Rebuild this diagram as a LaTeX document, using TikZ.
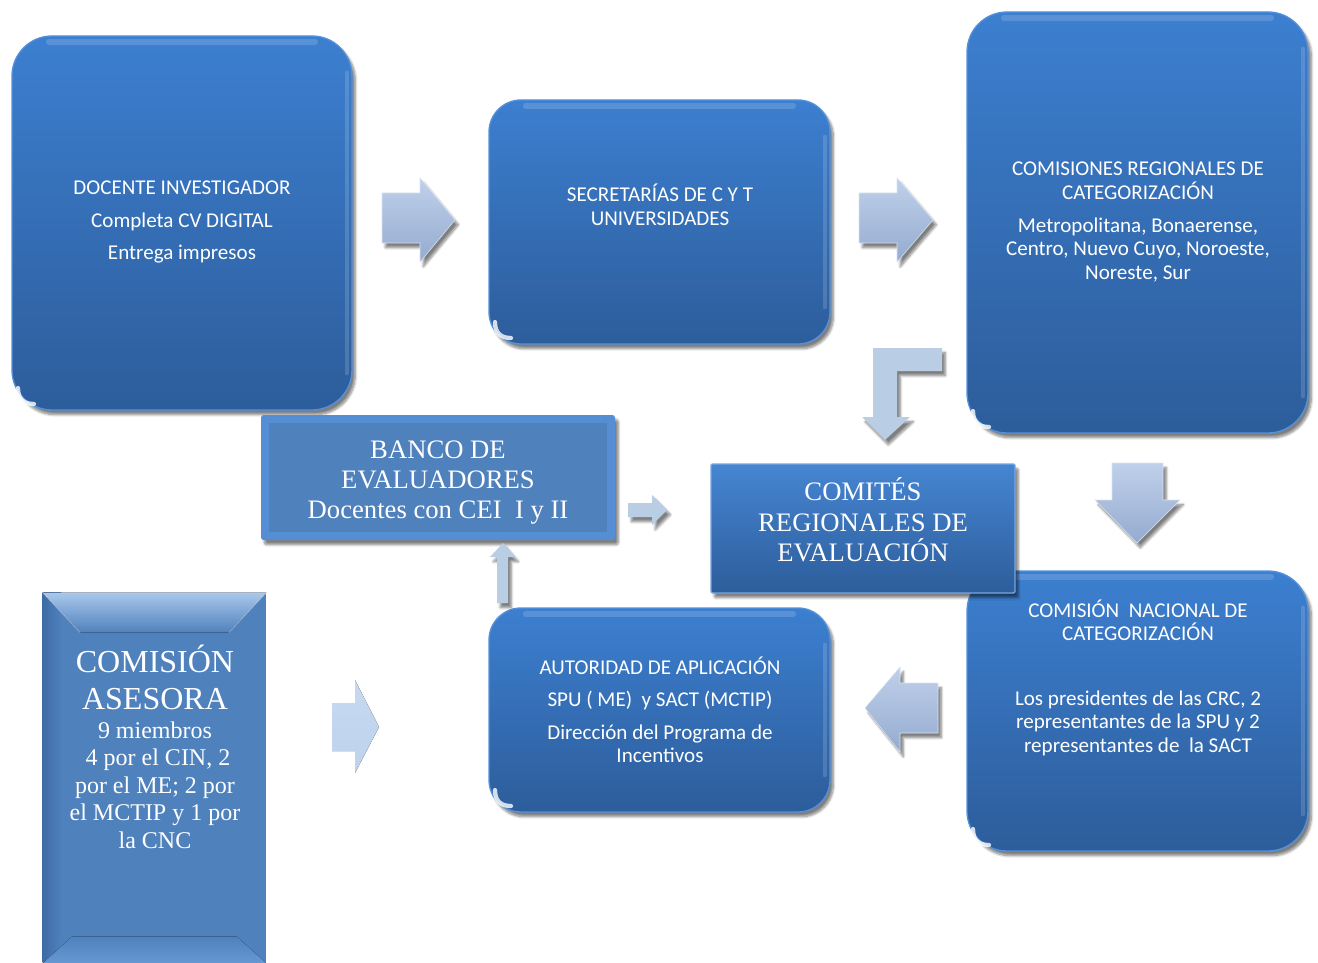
\documentclass[tikz,border=0pt]{standalone}
\usepackage{fontspec}
\setmainfont{Liberation Serif}
\newfontfamily\calfont{Carlito}
\usetikzlibrary{shadows.blur}
\definecolor{boxtop}{RGB}{60,127,208}
\definecolor{boxbot}{RGB}{45,93,155}
\definecolor{boxedge}{RGB}{84,145,218}
\definecolor{arrtop}{RGB}{192,208,234}
\definecolor{arrbot}{RGB}{148,171,208}
\definecolor{arrflat}{RGB}{185,205,229}
\definecolor{arrpale}{RGB}{198,217,241}
\definecolor{asefill}{RGB}{79,129,189}
\definecolor{asebevel}{RGB}{112,162,222}
\definecolor{asedark}{RGB}{62,108,165}
\definecolor{bancoedge}{RGB}{85,142,213}
\definecolor{bancoin}{RGB}{79,129,189}
\tikzset{
  shad/.style={blur shadow={shadow xshift=2.5pt,shadow yshift=-3.5pt,shadow blur steps=8,shadow opacity=50}},
  rbox/.style={shad,top color=boxtop,bottom color=boxbot,draw=boxedge,line width=1pt,inner sep=0pt},
  sqbox/.style={shad,top color=boxtop!95!white,bottom color=boxbot,draw=boxedge!80!white,line width=1pt,inner sep=0pt,rounded corners=1pt},
  sanstxt/.style={text=white,align=center,font=\calfont\fontsize{15.8}{17.6}\selectfont},
  seriftxt/.style={text=white,align=center,font=\fontsize{20}{22.5}\selectfont},
  blockarr/.style={shad,top color=arrtop,bottom color=arrbot,draw=arrtop!60!white,line width=0.4pt},
  flatarr/.style={shad,fill=arrflat,draw=none},
  glint/.style={draw=white,opacity=0.8,line width=3.2pt,line cap=round},
  topline/.style={draw=white,opacity=0.15,line width=4pt,line cap=round},
  sideline/.style={draw=white,opacity=0.15,line width=3pt,line cap=round}
}
\newcommand\boxdeco[1]{%
  \draw[glint] ([shift={(5pt,17pt)}]#1.south west) .. controls ([shift={(5pt,9pt)}]#1.south west) and ([shift={(9pt,5pt)}]#1.south west) .. ([shift={(17pt,5pt)}]#1.south west);
  \draw[topline] ([shift={(28pt,-5pt)}]#1.north west) -- ([shift={(-28pt,-5pt)}]#1.north east);
  \draw[sideline] ([shift={(-4.5pt,-28pt)}]#1.north east) -- ([shift={(-4.5pt,28pt)}]#1.south east);
}
\begin{document}
\begin{tikzpicture}[x=0.75pt,y=-0.75pt]
\useasboundingbox (0,0) rectangle (1318,963);

% rounded boxes
\node[rbox,rounded corners=30pt,minimum width=255pt,minimum height=280.5pt] (docente) at (182,223) {};
\node[rbox,rounded corners=24pt,minimum width=255.75pt,minimum height=183pt] (secret) at (659.5,222) {};
\node[rbox,rounded corners=30pt,minimum width=255.75pt,minimum height=315.75pt] (crc) at (1137.5,222.5) {};
\node[rbox,rounded corners=30pt,minimum width=255.75pt,minimum height=210pt] (cnc) at (1137.5,711) {};
\node[rbox,rounded corners=24pt,minimum width=255.75pt,minimum height=153pt] (autoridad) at (659.5,710) {};
\boxdeco{docente}
\boxdeco{secret}
\boxdeco{crc}
\boxdeco{cnc}
\boxdeco{autoridad}

% comites (square, over cnc)
\node[sqbox,minimum width=228pt,minimum height=96.75pt] (comites) at (863,528.5) {};

% banco
\node[shad,fill=bancoedge,rounded corners=2pt,inner sep=0pt,minimum width=265.5pt,minimum height=93.75pt] (banco) at (438,477.5) {};
\node[fill=bancoin,inner sep=0pt,minimum width=253.5pt,minimum height=81.75pt] (bancoin) at (banco.center) {};

% comision asesora (bevel)
\node[fill=asefill,inner sep=0pt,minimum width=167.25pt,minimum height=277.5pt] (asesora) at (154.5,778) {};
\fill[left color=asedark,right color=asefill] (asesora.north west) -- (asesora.south west) -- ([xshift=14pt]asesora.south west) -- ([xshift=14pt]asesora.north west) -- cycle;
\fill[top color=asebevel!60!white,bottom color=asefill] (asesora.north west) -- (asesora.north east) -- ([shift={(-28pt,-30pt)}]asesora.north east) -- ([shift={(28pt,-30pt)}]asesora.north west) -- cycle;
\fill[top color=asefill,bottom color=asebevel!70!asefill] (asesora.south west) -- (asesora.south east) -- ([shift={(-22pt,20pt)}]asesora.south east) -- ([shift={(22pt,20pt)}]asesora.south west) -- cycle;
\draw[white,opacity=0.35,line width=0.6pt] (asesora.north west) -- ([shift={(28pt,-30pt)}]asesora.north west) (asesora.north east) -- ([shift={(-28pt,-30pt)}]asesora.north east);

% block arrows
\draw[blockarr] (382,193) -- (420,193) -- (420,178) -- (455,220) -- (420,262) -- (420,243) -- (382,243) -- cycle;
\draw[blockarr] (859,193) -- (897,193) -- (897,178) -- (933,220) -- (897,262) -- (897,243) -- (859,243) -- cycle;
\draw[blockarr] (1112,463) -- (1163,463) -- (1163,500) -- (1180,500) -- (1137,543) -- (1095,500) -- (1112,500) -- cycle;
\draw[blockarr] (938,683) -- (938,733) -- (900,733) -- (900,752) -- (865,708) -- (900,667) -- (900,683) -- cycle;
\fill[flatarr] (873,348) -- (942,348) -- (942,371) -- (897,371) -- (897,417) -- (910,417) -- (885,440) -- (862,417) -- (873,417) -- cycle;
\fill[flatarr] (628,503) -- (652,503) -- (652,495) -- (667,510) -- (652,525) -- (652,517) -- (628,517) -- cycle;
\fill[flatarr] (497,603) -- (497,557) -- (490,557) -- (503,543) -- (515,557) -- (508,557) -- (508,603) -- cycle;
\fill[top color=arrpale,bottom color=arrpale!85!arrbot] (332,703) -- (355,703) -- (355,680) -- (379,727) -- (355,773) -- (355,751) -- (332,751) -- cycle;

% texts
\node[sanstxt] (docente-t) at (182,222) {DOCENTE INVESTIGADOR\\[6.5pt]Completa CV DIGITAL\\[6.5pt]Entrega impresos};
\node[sanstxt] (secret-t) at (660,205) {SECRETARÍAS DE C Y T\\UNIVERSIDADES};
\node[sanstxt] (crc-t) at (1138,222) {COMISIONES REGIONALES DE\\CATEGORIZACIÓN\\[7pt]Metropolitana, Bonaerense,\\Centro, Nuevo Cuyo, Noroeste,\\Noreste, Sur};
\node[sanstxt] (cnc-t) at (1138,677.5) {COMISIÓN\ \ NACIONAL DE\\CATEGORIZACIÓN\\[31pt]Los presidentes de las CRC, 2\\representantes de la SPU y 2\\representantes de\ \ la SACT};
\node[sanstxt] (autoridad-t) at (660,710) {AUTORIDAD DE APLICACIÓN\\[6.5pt]SPU ( ME)\ \ y SACT (MCTIP)\\[6.5pt]Dirección del Programa de\\Incentivos};
\node[seriftxt] (banco-t) at (438,483) {BANCO DE\\EVALUADORES\\Docentes con CEI\ \ I y II};
\node[seriftxt,font=\fontsize{20}{23}\selectfont] (comites-t) at (863,520) {COMITÉS\\REGIONALES DE\\EVALUACIÓN};
\node[text=white,align=center,font=\fontsize{18}{20.6}\selectfont] (asesora-t) at (155,747) {{\fontsize{24}{27.75}\selectfont COMISIÓN}\\[7pt]{\fontsize{24}{27.75}\selectfont ASESORA}\\[1pt]9 miembros\\\ 4 por el CIN, 2\\por el ME; 2 por\\el MCTIP y 1 por\\la CNC};
\end{tikzpicture}
\end{document}
